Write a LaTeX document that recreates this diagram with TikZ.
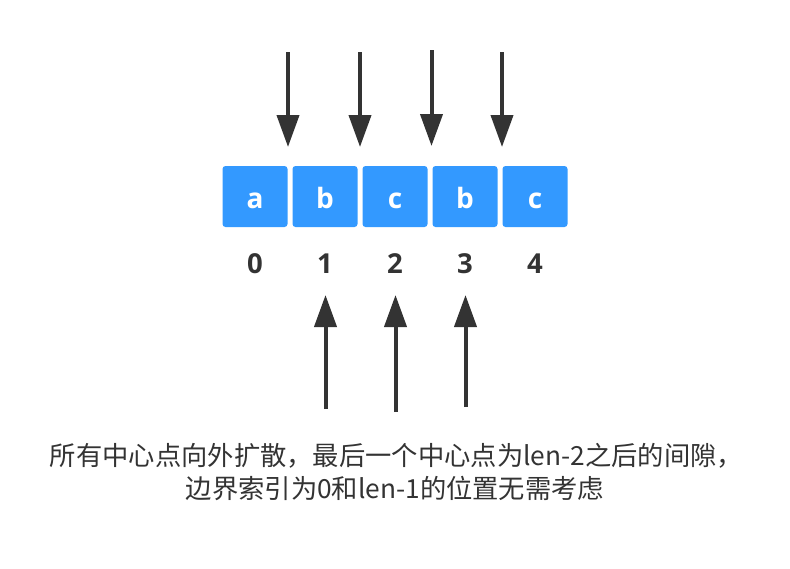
\documentclass[tikz,border=0pt]{standalone}
\usepackage{fontspec}
\setmainfont{Noto Sans CJK SC}
\newfontfamily\latinbold{Open Sans}[BoldFont=* Bold]
\usetikzlibrary{arrows.meta}
\definecolor{cellblue}{RGB}{51,153,255}
\definecolor{arrowgray}{RGB}{51,51,51}
\definecolor{numgray}{RGB}{51,51,51}
\tikzset{
  cell/.style={fill=cellblue, rounded corners=3pt, minimum width=65pt, minimum height=61pt,
    inner sep=0pt, text=white, font=\latinbold\bfseries\fontsize{28}{28}\selectfont,
    text height=23.6pt, text depth=0pt},
  idx/.style={anchor=base, inner sep=0pt, text=numgray, font=\latinbold\bfseries\fontsize{27.5}{27.5}\selectfont},
  ptr/.style={draw=arrowgray, line width=4pt, -{Triangle[width=22pt,length=32pt]}, color=arrowgray},
  caption/.style={anchor=base, inner sep=0pt, text=numgray, font=\fontsize{26.3}{33}\selectfont}
}
\begin{document}
\begin{tikzpicture}[x=1pt,y=-1pt]
\useasboundingbox (0,0) rectangle (790,568);
% cells
\node[cell] (c0) at (255,196.5) {a};
\node[cell] (c1) at (325,196.5) {b};
\node[cell] (c2) at (395,196.5) {c};
\node[cell] (c3) at (465,196.5) {b};
\node[cell] (c4) at (535,196.5) {c};
% indices
\node[idx] (n0) at (255,273.3) {0};
\node[idx] (n1) at (325,273.3) {1};
\node[idx] (n2) at (395,273.3) {2};
\node[idx] (n3) at (465,273.3) {3};
\node[idx] (n4) at (535,273.3) {4};
% down arrows
\coordinate (d1s) at (288,52);  \coordinate (d1e) at (288,147);
\coordinate (d2s) at (360,52);  \coordinate (d2e) at (360,147);
\coordinate (d3s) at (431.5,50);\coordinate (d3e) at (431.5,146);
\coordinate (d4s) at (502,52);  \coordinate (d4e) at (502,147);
\draw[ptr] (d1s) -- (d1e);
\draw[ptr] (d2s) -- (d2e);
\draw[ptr] (d3s) -- (d3e);
\draw[ptr] (d4s) -- (d4e);
% up arrows
\coordinate (u1s) at (325.5,409); \coordinate (u1e) at (325.5,295);
\coordinate (u2s) at (395.5,412); \coordinate (u2e) at (395.5,295);
\coordinate (u3s) at (465.5,407); \coordinate (u3e) at (465.5,295);
\draw[ptr] (u1s) -- (u1e);
\draw[ptr] (u2s) -- (u2e);
\draw[ptr] (u3s) -- (u3e);
% caption
\node[caption] (t1) at (396.5,465) {所有中心点向外扩散，最后一个中心点为len-2之后的间隙，};
\node[caption] (t2) at (395,498) {边界索引为0和len-1的位置无需考虑};
\end{tikzpicture}
\end{document}
